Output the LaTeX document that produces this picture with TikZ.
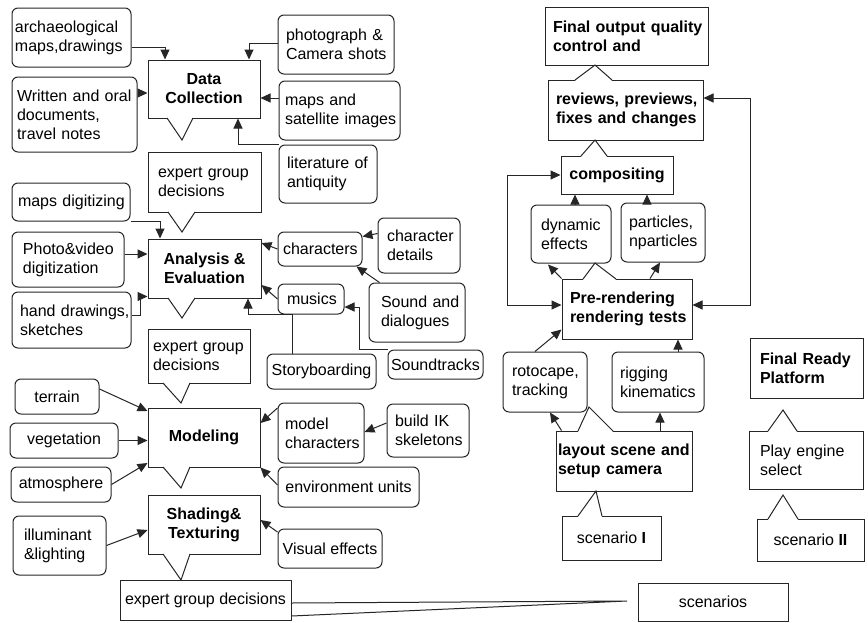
\documentclass[tikz,border=0pt]{standalone}
\usepackage{fontspec}
\setmainfont{Liberation Sans}
\usetikzlibrary{arrows.meta,calc}
\hyphenpenalty=10000\relax
\exhyphenpenalty=10000\relax
\hbadness=10000\relax
\hfuzz=20pt\relax
\newcommand\ptrd[5]{\fill[white] (#1,#3-0.8) -- (#4,#5) -- (#2,#3-0.8) -- cycle; \draw[ln] (#1,#3) -- (#4,#5) -- (#2,#3);}
\newcommand\ptru[5]{\fill[white] (#1,#3+0.8) -- (#4,#5) -- (#2,#3+0.8) -- cycle; \draw[ln] (#1,#3) -- (#4,#5) -- (#2,#3);}
\begin{document}
\begin{tikzpicture}[x=1pt,y=-1pt,
  every node/.style={font=\fontsize{16}{19}\selectfont, inner ysep=0pt},
  ln/.style={line width=1pt, draw=black!85},
  bf/.style={font=\fontsize{16}{19}\selectfont\bfseries},
  rb/.style n args={4}{ln, draw, rounded corners=6pt, minimum width=#1, minimum height=#2, inner xsep=#3, text width=#4, align=left},
  sb/.style n args={4}{ln, draw, minimum width=#1, minimum height=#2, inner xsep=#3, text width=#4, align=left},
  rc/.style 2 args={ln, draw, rounded corners=6pt, minimum width=#1, minimum height=#2, inner xsep=0pt, align=center},
  sc/.style 2 args={ln, draw, minimum width=#1, minimum height=#2, inner xsep=0pt, align=center},
  arr/.style={ln, -{Triangle[length=10pt,width=9pt]}},
  arr2/.style={ln, {Triangle[length=10pt,width=9pt]}-{Triangle[length=10pt,width=9pt]}}
]
\fill[white] (0,0) rectangle (868,622);
\useasboundingbox (0,0) rectangle (868,622);

% ---------- left column ----------
\node[rb={119}{59}{3}{113pt}] (arch) at (71.5,37.5) {archaeological\\maps,drawings};
\node[sc={112}{58},bf] (dc) at (204,89) {Data\\Collection};
\node[rb={116}{59}{8}{100pt}] (photo) at (336,44.5) {photograph~\&\\Camera~shots};
\node[rb={125}{75}{5}{115pt}] (written) at (74.5,114.5) {Written~and~oral\\documents,\\travel~notes};
\node[rb={121}{59}{6}{109pt}] (mapsat) at (339.5,110.5) {maps~and\\satellite~images};
\node[sb={113}{60}{10}{93pt}] (exp1) at (204.5,182) {expert~group\\decisions};
\node[rb={98}{58}{8}{82pt}] (lit) at (328,174) {literature~of\\antiquity};
\node[rb={118}{38}{6}{106pt}] (mapdig) at (71,202) {maps~digitizing};
\node[sc={113}{59},bf] (ae) at (204.5,268.5) {Analysis~\&\\Evaluation};
\node[rb={112}{55}{11}{90pt}] (photovid) at (68,259.5) {Photo\&video\\digitization};
\node[rb={119}{56}{8}{103pt}] (hand) at (71.5,320) {hand~drawings,\\sketches};
\node[rb={84}{34}{5}{74pt}] (chars) at (320,249) {characters};
\node[rb={82}{55}{9}{64pt}] (chardet) at (419,245.5) {character\\details};
\node[rb={66}{30}{9}{48pt}] (musics) at (311,299) {musics};
\node[rb={96}{59}{12}{72pt}] (sound) at (417,312.5) {Sound~and\\dialogues};
\node[rc={95}{29}] (sndtr) at (435.5,364.5) {Soundtracks};
\node[rc={109}{35}] (story) at (321.5,371.5) {Storyboarding};
\node[sb={102}{54}{5}{92pt}] (exp2) at (199,356) {expert~group\\decisions};
\node[rc={84}{35}] (terrain) at (57,396.5) {terrain};
\node[sc={112}{59},bf] (mod) at (204,437.5) {Modeling};
\node[rc={108}{35}] (veg) at (64,440.5) {vegetation};
\node[rc={100}{35}] (atm) at (61,484.5) {atmosphere};
\node[sc={112}{59},bf] (shade) at (204,524.5) {Shading\&\\Texturing};
\node[rb={93}{59}{11}{71pt}] (illum) at (59.5,545.5) {illuminant\\\&lighting};
\node[sc={171}{40}] (exp3) at (205.5,600) {expert group decisions};
\node[rb={86}{60}{7}{72pt}] (modchar) at (321,433) {model\\characters};
\node[rb={82}{53}{8}{66pt}] (ik) at (428,430.5) {build~IK\\skeletons};
\node[rc={141}{40}] (env) at (348.5,487) {environment units};
\node[rc={104}{39}] (vis) at (330,548.5) {Visual effects};

% ---------- right part ----------
\node[sb={163}{58}{8}{147pt},bf] (final) at (626.5,36) {Final~output~quality\\control~and};
\node[sb={155}{60}{8}{139pt},bf] (rev) at (625.5,110) {reviews,~previews,\\fixes~and~changes};
\node[sc={112}{38},bf] (comp) at (617,175) {compositing};
\node[rb={80}{58}{10}{60pt}] (dyn) at (571,234) {dynamic\\effects};
\node[rb={84}{59}{8}{68pt}] (part) at (663,232.5) {particles,\\nparticles};
\node[sb={130}{60}{8}{114pt},bf] (pre) at (627,309) {Pre-rendering\\rendering~tests};
\node[rb={84}{60}{9}{66pt}] (roto) at (545,382) {rotocape,\\tracking};
\node[rb={92}{60}{8}{76pt}] (rig) at (658,382) {rigging\\kinematics};
\node[sb={136}{60}{2}{132pt},bf] (layout) at (624,461) {layout~scene~and\\setup~camera};
\node[sc={99}{44}] (scen1) at (611.5,538) {scenario \textbf{I}};
\node[sb={113}{60}{10}{93pt},bf] (frp) at (806.5,368) {Final~Ready\\Platform};
\node[sb={114}{58}{11}{92pt}] (play) at (806,460) {Play~engine\\select};
\node[sc={107}{42}] (scen2) at (810.5,540) {scenario \textbf{II}};
\node[sc={150}{38}] (scens) at (713,602) {scenarios};

% ---------- callout pointers ----------
\ptrd{167}{193}{118}{182}{140}
\ptrd{168}{195}{212}{182}{232}
\ptrd{168}{195}{298}{182}{318}
\ptrd{163}{190}{383}{181}{403}
\ptrd{163}{190}{467}{181}{488}
\ptrd{163}{190}{554}{181}{580}
\ptru{575}{612}{80}{595}{65}
\ptru{581}{607}{156}{595}{140}
\ptru{583}{616}{279}{595}{263}
\ptru{578}{613}{431}{589}{407}
\ptru{578}{602}{516}{596}{491}
\ptru{768}{797}{431}{783}{410}
\ptru{768}{798}{519}{783}{495}

% ---------- wedge to scenarios ----------
\coordinate (wtip) at (627,601);
\draw[ln] ([yshift=-3pt]exp3.east) -- (wtip) -- ([yshift=-16pt]exp3.east);

% ---------- connectors: data collection ----------
\draw[arr] ([yshift=-9.5pt]arch.east) -| ([xshift=-39pt]dc.north);
\draw[arr] ([yshift=1.5pt]photo.west) -| ([xshift=45pt]dc.north);
\draw[arr] ([yshift=21.5pt]written.east) coordinate (t1) -- (t1 -| dc.west);
\draw[arr] ([yshift=12.5pt]mapsat.west) coordinate (t2) -- (t2 -| dc.east);
\draw[arr] (lit.north west) -| ([xshift=34pt]dc.south);

% ---------- analysis ----------
\draw[arr] (mapdig.south east) -| ([xshift=-44.5pt]ae.north);
\draw[arr] ([yshift=5.5pt]photovid.east) coordinate (t3) -- (t3 -| ae.west);
\draw[arr] ([yshift=5pt]hand.east) -- ++(9,0) |- ([yshift=2pt]ae.south west);
\draw[arr] (chars.west) -- ([yshift=25.5pt]ae.east);
\draw[arr] ([yshift=12pt]chardet.west) -- ([yshift=-5pt]chars.north east);
\draw[arr] (musics.west) -- ([yshift=-16.5pt]ae.east);
\draw[arr] ([xshift=11pt]sound.north west) -- ([xshift=-6pt]chars.south east);
\draw[arr] (sndtr.north west) -- ++(-28,0) |- ([yshift=-8pt]musics.east);
\draw[arr] ([xshift=-29.5pt]story.north) -- ++(0,-39) -| ([xshift=43.5pt]ae.south);

% ---------- modeling ----------
\draw[arr] ([yshift=7.5pt]terrain.east) -- ([yshift=26.5pt]mod.west);
\draw[arr] (veg.east) coordinate (t4) -- (t4 -| mod.west);
\draw[arr] (atm.east) -- ([yshift=-25.5pt]mod.west);
\draw[arr] ([yshift=25pt]modchar.west) -- ([yshift=14.5pt]mod.east);
\draw[arr] ([yshift=7.5pt]ik.west) -- ([yshift=1pt]modchar.east);
\draw[arr] ([yshift=2pt]env.west) -- (mod.south east);

% ---------- shading ----------
\draw[arr] (illum.east) -- ([yshift=-5.5pt]shade.west);
\draw[arr] ([yshift=16.5pt]vis.west) -- ([yshift=4.5pt]shade.east);

% ---------- right part ----------
\draw[arr] ([xshift=4pt]dyn.north) coordinate (t5) -- (t5 |- comp.south);
\draw[arr] ([xshift=-16pt]part.north) coordinate (t6) -- (t6 |- comp.south);
\draw[arr2] (comp.west) -- ++(-53,0) |- ([yshift=4pt]pre.west);
\draw[arr2] ([yshift=12pt]rev.east) -- ++(47,0) |- ([yshift=4pt]pre.east);
\draw[arr] (pre.north west) -- ([xshift=-23pt,yshift=-1pt]dyn.south);
\draw[arr] ([xshift=23pt]pre.north) -- ([xshift=-3pt]part.south);
\draw[arr] ([xshift=-10pt]roto.north) -- ([yshift=10pt]pre.south west);
\draw[arr] ([xshift=20pt]rig.north) coordinate (t7) -- (t7 |- pre.south);
\draw[arr] ([xshift=6pt]layout.north west) -- ([xshift=5pt]roto.south);
\draw[arr] ([xshift=36pt]layout.north) coordinate (t8) -- (t8 |- rig.south);
\end{tikzpicture}
\end{document}
